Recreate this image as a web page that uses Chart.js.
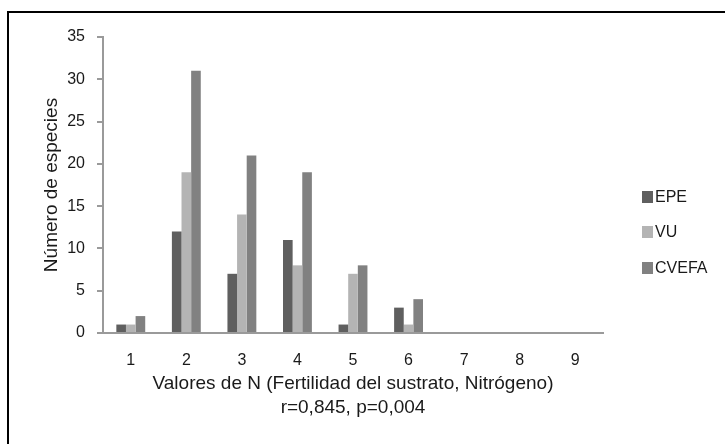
<!DOCTYPE html>
<html>
<head>
<meta charset="utf-8">
<script src="https://cdn.jsdelivr.net/npm/chart.js@4.4.1/dist/chart.umd.min.js"></script>
<style>
  html, body { margin: 0; padding: 0; background: #ffffff; }
  #wrap { position: relative; width: 725px; height: 444px; }
</style>
</head>
<body>
<div id="wrap"><canvas id="c" width="725" height="444"></canvas></div>
<script>
const categories = ["1", "2", "3", "4", "5", "6", "7", "8", "9"];
const seriesNames = ["EPE", "VU", "CVEFA"];
const epe   = [1, 12, 7, 11, 1, 3, 0, 0, 0];
const vu    = [1, 19, 14, 8, 7, 1, 0, 0, 0];
const cvefa = [2, 31, 21, 19, 8, 4, 0, 0, 0];
const yTitle = "Número de especies";
const xTitle = ["Valores de N (Fertilidad del sustrato, Nitrógeno)", "r=0,845, p=0,004"];

const colors = ["#5f5f5f", "#b4b4b4", "#818181"];
const FONT = "'Liberation Sans', Arial, sans-serif";
const TEXT = "#1a1a1a";
const AXIS = "#9a9a9a";

const frame = {
  id: 'frame',
  afterDraw(chart) {
    const ctx = chart.ctx;
    ctx.save();
    ctx.fillStyle = "#000000";
    ctx.fillRect(7, 11, 718, 2);
    ctx.fillRect(7, 11, 2, 433);
    ctx.restore();
  }
};

const sideLegend = {
  id: 'sideLegend',
  afterDraw(chart) {
    const ctx = chart.ctx;
    const ys = [197, 232, 268];
    ctx.save();
    ctx.font = "16px " + FONT;
    ctx.textBaseline = "middle";
    ctx.textAlign = "left";
    chart.data.datasets.forEach((ds, i) => {
      ctx.fillStyle = ds.backgroundColor;
      ctx.fillRect(642, ys[i] - 6, 11, 12);
      ctx.fillStyle = TEXT;
      ctx.fillText(ds.label, 655, ys[i] + 1);
    });
    ctx.restore();
  }
};

new Chart(document.getElementById('c'), {
  type: 'bar',
  data: {
    labels: categories,
    datasets: [
      { label: seriesNames[0], data: epe, backgroundColor: colors[0] },
      { label: seriesNames[1], data: vu, backgroundColor: colors[1] },
      { label: seriesNames[2], data: cvefa, backgroundColor: colors[2] }
    ]
  },
  options: {
    responsive: false,
    animation: false,
    events: [],
    layout: { padding: { left: 0, top: 37, right: 122, bottom: 0 } },
    datasets: { bar: { categoryPercentage: 0.52, barPercentage: 1.0, borderWidth: 0 } },
    plugins: { legend: { display: false }, tooltip: { enabled: false } },
    scales: {
      x: {
        grid: { display: false, drawTicks: false },
        border: { display: true, color: AXIS, width: 2 },
        ticks: { color: TEXT, font: { family: FONT, size: 16 }, padding: 18 },
        title: {
          display: true, text: xTitle, color: TEXT,
          font: { family: FONT, size: 19, lineHeight: 24 / 19 },
          padding: { top: 0, bottom: 24 }
        },
        afterFit(scale) { scale.height = 111; }
      },
      y: {
        min: 0, max: 35,
        grid: { drawOnChartArea: false, drawTicks: true, tickLength: 6, color: AXIS, lineWidth: 2 },
        border: { display: true, color: AXIS, width: 2 },
        ticks: { stepSize: 5, color: TEXT, font: { family: FONT, size: 16 }, padding: 12 },
        title: {
          display: true, text: yTitle, color: TEXT,
          font: { family: FONT, size: 19 },
          padding: { top: 40, bottom: 0 }
        },
        afterFit(scale) { scale.width = 103; }
      }
    }
  },
  plugins: [frame, sideLegend]
});
</script>
</body>
</html>
